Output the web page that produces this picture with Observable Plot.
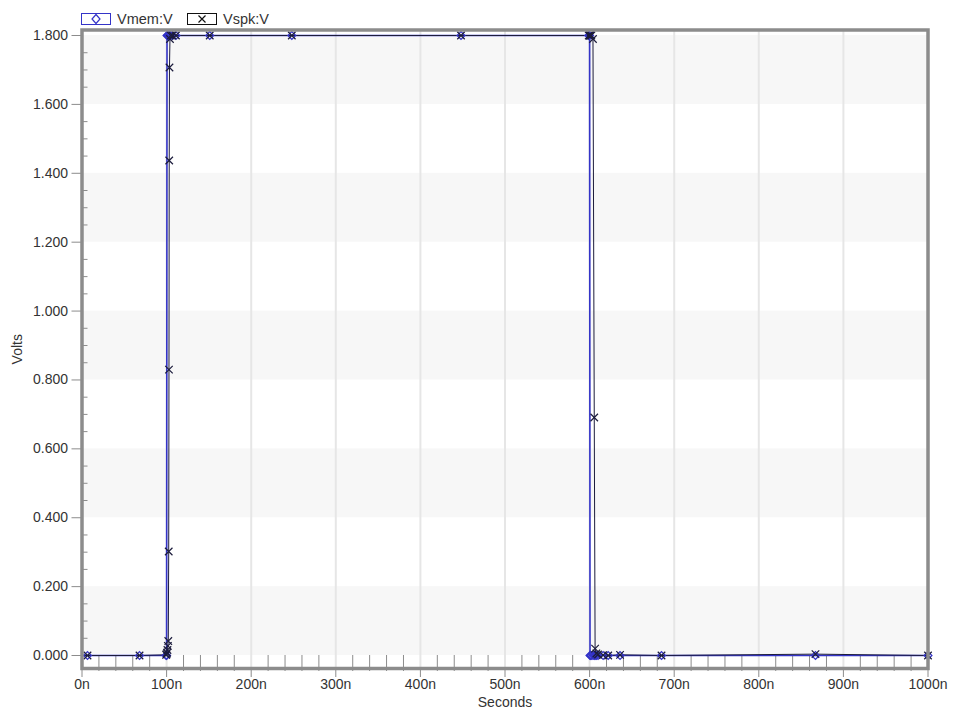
<!DOCTYPE html>
<html>
<head>
<meta charset="utf-8">
<script src="https://cdn.jsdelivr.net/npm/d3@7"></script>
<script src="https://cdn.jsdelivr.net/npm/@observablehq/plot@0.6"></script>
<style>
  body { margin: 0; background: #fff; font-family: "Liberation Sans", Arial, sans-serif; }
  #legend { position: relative; width: 953px; height: 26px; font-size: 14.5px; color: #333; }
  #legend .item { position: absolute; top: 12px; height: 13px; display: flex; align-items: center; }
  #legend svg { display: block; margin-right: 6px; }
  #chart svg { display: block; }
</style>
</head>
<body>
<div id="legend"></div>
<div id="chart"></div>
<script>
// Transient simulation: time in ns, node voltages in V
const timeNs = [0, 6.5, 68, 99.5, 100,
  100.5, 101, 101.5, 102, 102.5, 102.8, 103.1, 103.4, 104, 105, 107, 111, 151, 248, 448, 599, 600,
  600.5, 601, 602, 604, 605.5, 606.5, 608, 610, 616, 622, 636, 685, 867, 1000];
const vmemV = [0, 0, 0, 0, 0,
  1.8, 1.8, 1.8, 1.8, 1.8, 1.8, 1.8, 1.8, 1.8, 1.8, 1.8, 1.8, 1.8, 1.8, 1.8, 1.8, 1.8,
  0, 0, 0, 0, 0, 0, 0, 0, 0, 0, 0, 0, 0, 0];
const vspkV = [0, 0, 0, 0.002, 0.004,
  0.008, 0.016, 0.028, 0.042, 0.302, 0.830, 1.437, 1.707, 1.79, 1.8, 1.8, 1.8, 1.8, 1.8, 1.8, 1.8, 1.8,
  1.8, 1.8, 1.8, 1.79, 0.691, 0.02, 0.006, 0.003, 0.001, 0, 0.002, 0, 0.004, 0];

const seriesNames = ["Vmem:V", "Vspk:V"];
const seriesColors = ["#3434c8", "#1c1c3c"];
const seriesSymbols = ["diamond2", "times"];

const xTicks = [0, 100, 200, 300, 400, 500, 600, 700, 800, 900, 1000];
const yTicks = [0, 0.2, 0.4, 0.6, 0.8, 1.0, 1.2, 1.4, 1.6, 1.8];
const timeDomain = [0, 1000];
const voltDomain = [-0.0377, 1.816];

// Samples as rows
const samples = timeNs.map((t, i) => ({t, vmem: vmemV[i], vspk: vspkV[i]}));
const marked = samples.filter(d => d.t > 0);

// Minor ticks: every 20 ns and every 0.05 V
const xMinor = d3.range(0, 1000.1, 20).filter(v => !xTicks.includes(v));
const yMinor = d3.range(0, 1.8001, 0.05).map(v => +v.toFixed(2)).filter(v => !yTicks.some(t => Math.abs(t - v) < 1e-9));

// Alternating horizontal bands
const bands = yTicks.slice(0, -1).map((v, i) => ({y1: v, y2: yTicks[i + 1], shaded: i % 2 === 0})).filter(b => b.shaded);

// Legend
const legend = document.getElementById("legend");
const legendLeft = [81, 187];
seriesNames.forEach((name, i) => {
  const item = document.createElement("div");
  item.className = "item";
  item.style.left = legendLeft[i] + "px";
  const c = i === 0 ? seriesColors[0] : "#111";
  const icon = i === 0
    ? `<path d="M15,1.5 L19,6 L15,10.5 L11,6 Z" fill="none" stroke="${c}" stroke-width="1.2"/>`
    : `<path d="M11.5,2.5 L18.5,9.5 M18.5,2.5 L11.5,9.5" stroke="${c}" stroke-width="1.2"/>`;
  item.innerHTML = `<svg width="30" height="12"><rect x="0.5" y="0.5" width="29" height="11" fill="#fff" stroke="${c}"/>${icon}</svg><span>${name}</span>`;
  legend.appendChild(item);
});

const chart = Plot.plot({
  width: 953,
  height: 685,
  marginLeft: 81.5,
  marginRight: 25.5,
  marginTop: 3.5,
  marginBottom: 43,
  style: {fontFamily: '"Liberation Sans", Arial, sans-serif', fontSize: "14px", color: "#333", background: "#fff"},
  x: {domain: timeDomain},
  y: {domain: voltDomain},
  marks: [
    Plot.rectY(bands, {x1: timeDomain[0], x2: timeDomain[1], y1: "y1", y2: "y2", fill: "#f7f7f7"}),
    Plot.ruleX(xTicks.slice(1, -1), {stroke: "#e6e6e6", strokeWidth: 2}),
    Plot.ruleX(xMinor, {y1: voltDomain[0], y2: 0, insetTop: 3, stroke: "#8c8c8c"}),
    Plot.ruleY(yMinor, {x1: 0, x2: 0, insetRight: -6, stroke: "#8c8c8c"}),
    Plot.axisX(xTicks, {tickSize: 9, tickPadding: 2, stroke: "#8c8c8c", tickFormat: d => d + "n", label: "Seconds", labelAnchor: "center", labelOffset: 38, labelArrow: false}),
    Plot.axisY(yTicks, {tickSize: 10, tickPadding: 4, stroke: "#8c8c8c", tickFormat: d3.format(".3f"), label: "Volts", labelAnchor: "center", labelOffset: 70, labelArrow: false}),
    Plot.line(samples, {x: "t", y: "vmem", stroke: seriesColors[0], strokeWidth: 1.6}),
    Plot.line(samples, {x: "t", y: "vspk", stroke: seriesColors[1], strokeWidth: 1}),
    Plot.dot(marked, {x: "t", y: "vmem", symbol: seriesSymbols[0], r: 3.5, stroke: seriesColors[0], strokeWidth: 1.3}),
    Plot.dot(marked, {x: "t", y: "vspk", symbol: seriesSymbols[1], r: 3.5, stroke: seriesColors[1], strokeWidth: 1.2}),
    Plot.frame({stroke: "#8c8c8c", strokeWidth: 3.5})
  ]
});
document.getElementById("chart").appendChild(chart);
</script>
</body>
</html>
